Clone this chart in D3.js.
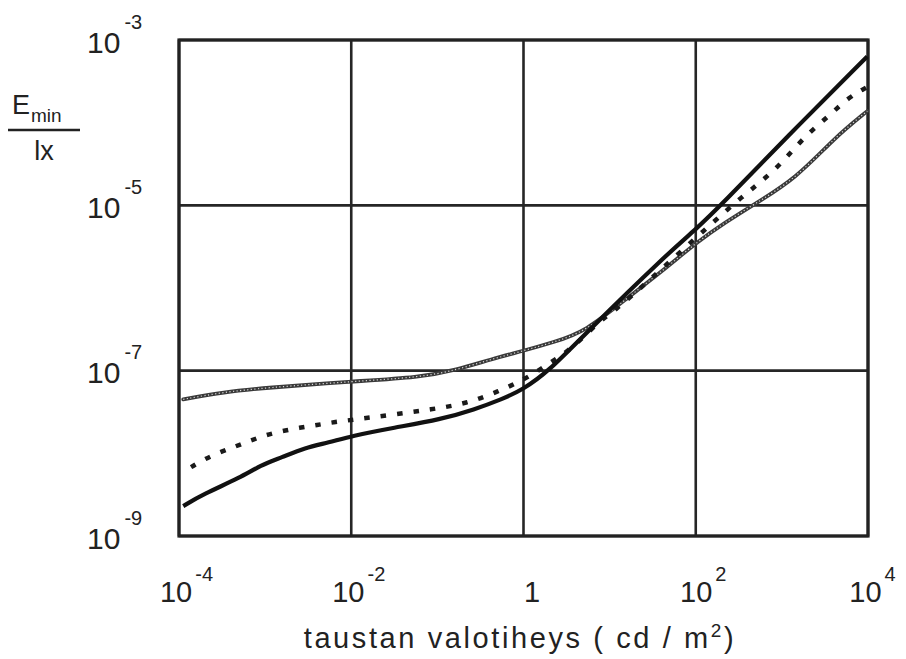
<!DOCTYPE html>
<html>
<head>
<meta charset="utf-8">
<script src="https://cdn.jsdelivr.net/npm/d3@7"></script>
<style>
  html, body { margin: 0; padding: 0; background: #fff; }
  svg { display: block; }
  text { font-family: "Liberation Sans", Arial, Helvetica, sans-serif; fill: #222; }
</style>
</head>
<body>
<svg id="chart" width="906" height="659"></svg>
<script>
// Background luminance (cd/m²) and minimum illuminance ratio, three curves
const solidX = [1.12e-4, 1.9e-4, 5.2e-4, 8.9e-4, 1.55e-3, 2.9e-3, 5.5e-3, 1.0e-2, 3.1e-2, 0.11, 0.27, 0.56, 0.98, 1.95, 5.2, 45, 100, 200, 1120, 9800];
const solidY = [2.3e-9, 3.2e-9, 5.1e-9, 7.2e-9, 8.9e-9, 1.17e-8, 1.35e-8, 1.62e-8, 2.04e-8, 2.57e-8, 3.4e-8, 4.5e-8, 5.9e-8, 9.8e-8, 2.8e-7, 2.5e-6, 5.1e-6, 1.02e-5, 6.6e-5, 6.3e-4];

const dottedX = [1.38e-4, 1.9e-4, 2.9e-4, 4.4e-4, 6.6e-4, 1.0e-3, 1.58e-3, 2.5e-3, 4.0e-3, 6.5e-3, 1.12e-2, 3.1e-2, 8.5e-2, 0.22, 0.51, 1.05, 2.0, 3.7, 7.4, 10.7, 28, 141, 350, 650, 1120, 1860, 3500, 6000, 9800];
const dottedY = [6.8e-9, 8.3e-9, 1.02e-8, 1.2e-8, 1.41e-8, 1.66e-8, 1.86e-8, 2.04e-8, 2.2e-8, 2.4e-8, 2.57e-8, 2.95e-8, 3.4e-8, 4.0e-8, 5.6e-8, 7.9e-8, 1.23e-7, 1.86e-7, 3.9e-7, 5.0e-7, 1.2e-6, 5.6e-6, 1.29e-5, 2.14e-5, 3.7e-5, 6.9e-5, 1.2e-4, 2.04e-4, 2.7e-4];

const ringX = [1.12e-4, 3.3e-4, 1.0e-3, 1e-2, 6.3e-2, 0.166, 0.43, 1.0, 2.2, 5.2, 16.6, 45, 107, 219, 470, 1450, 4100, 9800];
const ringY = [4.5e-8, 5.5e-8, 6.2e-8, 7.4e-8, 8.3e-8, 1.02e-7, 1.38e-7, 1.74e-7, 2.2e-7, 2.95e-7, 7.8e-7, 1.74e-6, 3.7e-6, 6.2e-6, 1.02e-5, 2.1e-5, 6.6e-5, 1.38e-4];

// Gridline / tick positions
const xTicks = [1e-4, 1e-2, 1, 1e2, 1e4];
const xTickBase = ["10", "10", "1", "10", "10"];
const xTickExp = ["-4", "-2", "", "2", "4"];
const yTicks = [1e-3, 1e-5, 1e-7, 1e-9];
const yTickExp = ["-3", "-5", "-7", "-9"];

const svg = d3.select("#chart");
const plotLeft = 179, plotRight = 868, plotTop = 40, plotBottom = 536;

const x = d3.scaleLog().domain([1e-4, 1e4]).range([plotLeft, plotRight]);
const y = d3.scaleLog().domain([1e-9, 1e-3]).range([plotBottom, plotTop]);

// grid
const grid = svg.append("g").attr("stroke", "#262626").attr("stroke-width", 2.6);
xTicks.forEach(v => grid.append("line").attr("x1", x(v)).attr("x2", x(v)).attr("y1", plotTop).attr("y2", plotBottom));
yTicks.forEach(v => grid.append("line").attr("y1", y(v)).attr("y2", y(v)).attr("x1", plotLeft).attr("x2", plotRight));

// frame
svg.append("rect").attr("x", plotLeft).attr("y", plotTop).attr("width", plotRight - plotLeft).attr("height", plotBottom - plotTop)
  .attr("fill", "none").attr("stroke", "#222").attr("stroke-width", 3.2);

// tick labels placed through d3 axis generators
const xAxis = d3.axisBottom(x).tickValues(xTicks).tickSize(0).tickFormat(() => "");
const xg = svg.append("g").attr("transform", `translate(0,${plotBottom})`).call(xAxis);
xg.select(".domain").remove();
xg.selectAll(".tick").each(function(d, i) {
  const t = d3.select(this).append("text")
    .attr("x", xTickExp[i] === "" ? 8 : (i === 4 ? 4 : 7))
    .attr("y", 66)
    .attr("text-anchor", "middle")
    .attr("font-size", 29)
    .attr("fill", "#222");
  t.append("tspan").text(xTickBase[i]);
  if (xTickExp[i] !== "") {
    t.append("tspan").attr("dy", -21).attr("font-size", 20).attr("dx", 3).text(xTickExp[i]);
  }
});

const yAxis = d3.axisLeft(y).tickValues(yTicks).tickSize(0).tickFormat(() => "");
const yg = svg.append("g").attr("transform", `translate(${plotLeft},0)`).call(yAxis);
yg.select(".domain").remove();
yg.selectAll(".tick").each(function(d, i) {
  const t = d3.select(this).append("text")
    .attr("x", -92)
    .attr("y", 12)
    .attr("text-anchor", "start")
    .attr("font-size", 30)
    .attr("fill", "#222");
  t.append("tspan").text("10");
  t.append("tspan").attr("dy", -24).attr("dx", 4).attr("font-size", 20).text(yTickExp[i]);
});

// y-axis quantity label: E_min / lx
const q = svg.append("g");
const e = q.append("text").attr("x", 12).attr("y", 114).attr("font-size", 27);
e.append("tspan").text("E");
e.append("tspan").attr("dy", 8).attr("dx", 1).attr("font-size", 19).text("min");
q.append("line").attr("x1", 8).attr("x2", 80).attr("y1", 130).attr("y2", 130)
  .attr("stroke", "#222").attr("stroke-width", 2.6);
q.append("text").attr("x", 44).attr("y", 160).attr("text-anchor", "middle").attr("font-size", 27).text("lx");

// x-axis title
const tt = svg.append("text").attr("x", 520).attr("y", 648).attr("text-anchor", "middle")
  .attr("font-size", 29).attr("letter-spacing", 2.6);
tt.append("tspan").text("taustan valotiheys ( cd / m");
tt.append("tspan").attr("dy", -11).attr("font-size", 19).text("2");
tt.append("tspan").attr("dy", 11).text(")");

// curves
const line = d3.line().x(d => x(d[0])).y(d => y(d[1])).curve(d3.curveBasis);
const plot = svg.append("g");

const ringPts = ringX.map((v, i) => [v, ringY[i]]);
plot.append("path").attr("d", line(ringPts)).attr("fill", "none")
  .attr("stroke", "#3a3a3a").attr("stroke-width", 3.8).attr("stroke-linecap", "round");
plot.append("path").attr("d", line(ringPts)).attr("fill", "none")
  .attr("stroke", "#d8d8d8").attr("stroke-width", 1.2).attr("stroke-dasharray", "1.2,2.4");

const dotPts = dottedX.map((v, i) => [v, dottedY[i]]);
plot.append("path").attr("d", line(dotPts)).attr("fill", "none")
  .attr("stroke", "#1a1a1a").attr("stroke-width", 4.5).attr("stroke-dasharray", "5.5,11");

const solidPts = solidX.map((v, i) => [v, solidY[i]]);
plot.append("path").attr("d", line(solidPts)).attr("fill", "none")
  .attr("stroke", "#111").attr("stroke-width", 4.2).attr("stroke-linejoin", "round");
</script>
</body>
</html>
